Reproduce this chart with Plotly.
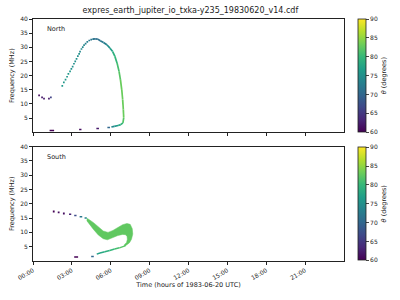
import plotly.graph_objects as go
from plotly.colors import sample_colorscale

# ---------------- data (hours of day, MHz, theta degrees) ----------------
# North panel: isolated dots
north_dot_t = [0.47, 0.70, 0.85, 1.23, 1.38, 2.26, 2.38, 2.51, 2.63, 2.73, 2.86, 2.96, 3.06,
               3.16, 3.26, 3.36, 3.46, 3.56, 3.63, 3.74, 3.84, 3.94, 4.06, 4.19, 4.34, 4.49, 4.64]
north_dot_f = [13.0, 12.3, 11.9, 11.9, 12.3, 16.4, 17.6, 18.6, 19.6, 20.6, 21.5, 22.4, 23.2,
               24.2, 25.0, 25.9, 26.9, 27.7, 28.5, 29.4, 30.1, 30.8, 31.3, 31.9, 32.4, 32.7, 32.9]
north_dot_th = [61, 62, 62, 62, 66, 76, 76, 76, 76, 76, 76, 75, 75,
                75, 75, 75, 75, 75, 74, 74, 74, 74, 73, 73, 72, 72, 72]
# North panel: continuous arc
north_arc_t = [4.64, 4.80, 5.00, 5.19, 5.44, 5.70, 5.94, 6.15, 6.32, 6.49, 6.64, 6.75, 6.85,
               6.92, 6.97, 7.00, 6.94, 6.77, 6.57, 6.27, 6.05]
north_arc_f = [32.9, 33.0, 32.9, 32.3, 31.7, 30.9, 29.7, 28.5, 26.8, 24.4, 21.5, 18.5, 15.0,
               11.5, 8.0, 5.1, 3.3, 2.7, 2.4, 2.1, 1.85]
north_arc_th = [71, 71, 71, 72, 73, 75, 77, 79, 80, 81, 82, 83, 83,
                83, 83, 82, 80, 78, 76, 74, 72]
# North panel: short dashes (start, end, freq, theta)
north_dash_t0 = [1.28, 3.56, 4.89, 5.74]
north_dash_t1 = [1.63, 3.74, 5.09, 5.94]
north_dash_f = [0.6, 1.0, 1.3, 1.65]
north_dash_th = [60, 61, 62, 70]

# South panel: isolated dots
south_dot_t = [1.60, 1.98, 2.38]
south_dot_f = [17.3, 17.0, 16.6]
south_dot_th = [60, 61, 61]
# South panel: short dashes
south_dash_t0 = [2.78, 3.18, 3.60, 3.98, 3.18, 4.49]
south_dash_t1 = [2.95, 3.36, 3.80, 4.15, 3.48, 4.69]
south_dash_f = [16.3, 15.9, 15.5, 15.0, 1.4, 1.55]
south_dash_th = [63, 67, 72, 74, 60, 70]
# South panel: thick band outline (upper edge then inner edge)
band_t = [4.15, 4.29, 4.67, 5.04, 5.42, 5.79, 6.17, 6.55, 6.92, 7.25, 7.50, 7.66, 7.70, 7.60,
          7.45, 7.25, 7.05, 7.05, 7.22, 7.28, 7.26, 7.14, 6.92, 6.55, 6.17, 5.74, 5.42, 5.04,
          4.67, 4.29, 4.15]
band_f = [14.9, 14.6, 13.4, 11.9, 10.5, 10.0, 10.7, 11.7, 12.7, 13.1, 12.8, 11.3, 9.4, 7.6,
          6.4, 5.7, 5.1, 5.7, 6.5, 7.6, 8.6, 9.2, 9.3, 8.9, 8.1, 7.4, 7.8, 9.1,
          11.0, 13.1, 14.1]
band_th = 82.5
# South panel: thin lower return branch
south_arc_t = [7.15, 7.05, 6.67, 6.30, 5.92, 5.54, 5.17, 4.92]
south_arc_f = [5.5, 5.2, 4.6, 4.2, 3.7, 3.2, 2.8, 2.4]
south_arc_th = [82, 82, 81, 80, 79, 78, 77, 76]

hour_ticks = [0, 3, 6, 9, 12, 15, 18, 21]
hour_labels = ["00:00", "03:00", "06:00", "09:00", "12:00", "15:00", "18:00", "21:00"]
freq_ticks = [5, 10, 15, 20, 25, 30, 35, 40]
theta_ticks = [60, 65, 70, 75, 80, 85, 90]

TH_MIN, TH_MAX = 60, 90


def col(th):
    return sample_colorscale("Viridis", [(th - TH_MIN) / (TH_MAX - TH_MIN)])[0]


fig = go.Figure()


def add_arc(t, f, th, xa, ya, w):
    for i in range(len(t) - 1):
        fig.add_trace(go.Scatter(x=[t[i], t[i + 1]], y=[f[i], f[i + 1]], mode="lines",
                                 line=dict(color=col(th[i]), width=w),
                                 xaxis=xa, yaxis=ya, showlegend=False, hoverinfo="skip"))


def add_dashes(t0, t1, f, th, xa, ya):
    for a, b, ff, tt in zip(t0, t1, f, th):
        fig.add_trace(go.Scatter(x=[a, b], y=[ff, ff], mode="lines",
                                 line=dict(color=col(tt), width=1.5),
                                 xaxis=xa, yaxis=ya, showlegend=False, hoverinfo="skip"))


# North
add_arc(north_arc_t, north_arc_f, north_arc_th, "x", "y", 1.7)
add_dashes(north_dash_t0, north_dash_t1, north_dash_f, north_dash_th, "x", "y")
fig.add_trace(go.Scatter(x=north_dot_t, y=north_dot_f, mode="markers",
                         marker=dict(symbol="square", size=1.7, color=north_dot_th,
                                     coloraxis="coloraxis", line=dict(width=0)),
                         xaxis="x", yaxis="y", showlegend=False))

# South
fig.add_trace(go.Scatter(x=band_t, y=band_f, mode="lines", fill="toself",
                         fillcolor=col(band_th), line=dict(color=col(band_th), width=0.5),
                         xaxis="x2", yaxis="y2", showlegend=False, hoverinfo="skip"))
add_arc(south_arc_t, south_arc_f, south_arc_th, "x2", "y2", 1.5)
add_dashes(south_dash_t0, south_dash_t1, south_dash_f, south_dash_th, "x2", "y2")
fig.add_trace(go.Scatter(x=south_dot_t, y=south_dot_f, mode="markers",
                         marker=dict(symbol="square", size=1.8, color=south_dot_th,
                                     coloraxis="coloraxis2", line=dict(width=0)),
                         xaxis="x2", yaxis="y2", showlegend=False))

FONT = "DejaVu Sans"
axis_common = dict(showline=True, mirror=True, linecolor="#222", linewidth=0.8,
                   showgrid=False, zeroline=False, ticks="outside", ticklen=3,
                   tickwidth=0.8, tickcolor="#222", tickfont=dict(size=6, family=FONT, color="#222"))

cbar_common = dict(x=1.044, xanchor="left", xpad=0, ypad=0, thickness=8, thicknessmode="pixels",
                   lenmode="fraction", len=0.468, yanchor="middle",
                   outlinewidth=0.8, outlinecolor="#222", ticks="outside", ticklen=3,
                   tickvals=theta_ticks, tickfont=dict(size=6, family=FONT, color="#222"),
                   title=dict(text="<i>θ</i> (degrees)", side="right",
                              font=dict(size=6.5, family=FONT, color="#222")))

fig.update_layout(
    width=400, height=300,
    margin=dict(l=31, r=50, t=19, b=38),
    paper_bgcolor="white", plot_bgcolor="white",
    font=dict(family=FONT, color="#222"),
    title=dict(text="expres_earth_jupiter_io_txka-y235_19830620_v14.cdf", x=0.476, xanchor="center",
               y=0.965, yanchor="middle", font=dict(size=8, family=FONT, color="#222")),
    xaxis=dict(domain=[0, 1], range=[0, 24], anchor="y", tickvals=hour_ticks,
               showticklabels=False, **axis_common),
    yaxis=dict(domain=[0.532, 1], range=[0, 40], anchor="x", tickvals=freq_ticks,
               title=dict(text="Frequency (MHz)", font=dict(size=6.5, family=FONT), standoff=4),
               **axis_common),
    xaxis2=dict(domain=[0, 1], range=[0, 24], anchor="y2", tickvals=hour_ticks,
                ticktext=hour_labels, tickangle=-30,
                title=dict(text="Time (hours of 1983-06-20 UTC)", font=dict(size=6.5, family=FONT),
                           standoff=2),
                **axis_common),
    yaxis2=dict(domain=[0, 0.473], range=[0, 40], anchor="x2", tickvals=freq_ticks,
                title=dict(text="Frequency (MHz)", font=dict(size=6.5, family=FONT), standoff=4),
                **axis_common),
    coloraxis=dict(colorscale="Viridis", cmin=TH_MIN, cmax=TH_MAX,
                   colorbar=dict(y=0.766, **cbar_common)),
    coloraxis2=dict(colorscale="Viridis", cmin=TH_MIN, cmax=TH_MAX,
                    colorbar=dict(y=0.2365, **cbar_common)),
    annotations=[
        dict(text="North", x=0.9, y=36.5, xref="x", yref="y", xanchor="left", yanchor="middle",
             showarrow=False, font=dict(size=6.5, family=FONT, color="#222")),
        dict(text="South", x=0.9, y=36.2, xref="x2", yref="y2", xanchor="left", yanchor="middle",
             showarrow=False, font=dict(size=6.5, family=FONT, color="#222")),
    ],
)

fig.write_html("out.html")
